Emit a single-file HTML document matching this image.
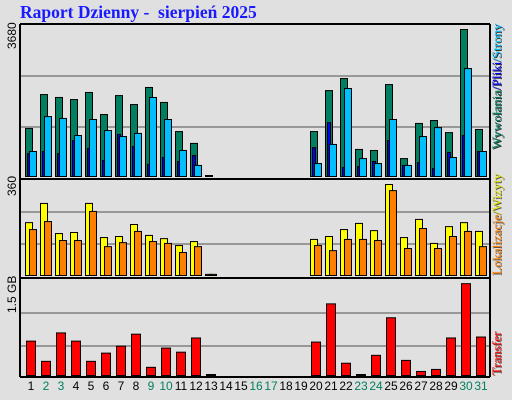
<!DOCTYPE html>
<html><head><meta charset="utf-8"><style>
html,body{margin:0;padding:0;background:#e0e0e0;}
svg{display:block;font-family:"Liberation Sans",sans-serif;}
</style></head><body>
<svg id="chart" width="512" height="400" viewBox="0 0 512 400" xmlns="http://www.w3.org/2000/svg">
<rect x="0" y="0" width="512" height="400" fill="#e0e0e0"/>
<text x="20" y="18" font-family="Liberation Serif, serif" font-weight="bold" font-size="17.5" fill="#1a1aff" xml:space="preserve">Raport Dzienny -  sierpień 2025</text>
<g id="panels"></g>
<text transform="translate(16,49) rotate(-90)" font-size="12" fill="#000">3680</text>
<text transform="translate(16,196) rotate(-90)" font-size="12" fill="#000">360</text>
<text transform="translate(16,313) rotate(-90)" font-size="12" fill="#000">1.5 GB</text>
<text transform="translate(502,150) rotate(-90)" font-family="Liberation Serif, serif" font-size="13" fill="#333">Wywołania/Pliki/Strony</text>
<text transform="translate(501,149) rotate(-90)" font-family="Liberation Serif, serif" font-size="13"><tspan fill="#008060">Wywołania</tspan><tspan fill="#0000ff">/Pliki</tspan><tspan fill="#00bfff">/Strony</tspan></text>
<text transform="translate(502,276) rotate(-90)" font-family="Liberation Serif, serif" font-size="13" fill="#555">Lokalizacje/Wizyty</text>
<text transform="translate(501,275) rotate(-90)" font-family="Liberation Serif, serif" font-size="13"><tspan fill="#ff8000">Lokalizacje</tspan><tspan fill="#e0e000">/Wizyty</tspan></text>
<text transform="translate(502,376) rotate(-90)" font-family="Liberation Serif, serif" font-size="13" fill="#555">Transfer</text>
<text transform="translate(501,375) rotate(-90)" font-family="Liberation Serif, serif" font-size="13" fill="#ff0000">Transfer</text>
<g id="xlabels"></g>
</svg>
<script>
const days = [1,2,3,4,5,6,7,8,9,10,11,12,13,14,15,16,17,18,19,20,21,22,23,24,25,26,27,28,29,30,31];
const weekend = [2,3,9,10,16,17,23,24,30,31];
const hits  = [1180,1995,1925,1875,2045,1515,1970,1755,2165,1805,1105,820,25,0,0,0,0,0,0,1105,2090,2380,675,650,2235,455,1300,1370,1080,3560,1155];
const files = [575,625,575,890,700,410,1035,745,315,480,385,530,0,0,0,0,0,0,0,720,1320,240,265,385,890,290,360,215,600,1010,625];
const pages = [625,1465,1420,1010,1395,1130,985,1060,1925,1395,650,290,0,0,0,0,0,0,0,335,795,2140,455,335,1395,290,985,1200,480,2620,625];
const visits = [202,274,161,165,274,146,150,195,154,142,116,131,8,0,0,0,0,0,0,139,150,176,199,172,345,146,214,124,187,202,169];
const locs   = [176,206,135,135,244,112,127,169,131,124,90,112,8,0,0,0,0,0,0,116,97,139,139,135,322,105,180,105,150,169,112];
const transferMB = [560,240,690,560,240,370,480,670,145,450,385,610,16,0,0,0,0,0,0,545,1150,210,16,335,930,255,80,112,610,1470,625];
const maxHits = 3680, maxVisits = 360, maxMB = 1536;
const NS = "http://www.w3.org/2000/svg";
const svg = document.getElementById('panels');
const xl = document.getElementById('xlabels');
function slotX(i){ return 20 + i*15; }
function el(tag, attrs, parent){ const e=document.createElementNS(NS,tag); for(const k in attrs) e.setAttribute(k,attrs[k]); parent.appendChild(e); return e; }
const panels = [
 {name:'hits-panel', top:24, base:177, grid:[76,127]},
 {name:'visits-panel', top:180, base:276, grid:[212,244]},
 {name:'transfer-panel', top:279, base:376, grid:[313,346]}
];
panels.forEach(p=>{
  p.grid.forEach(g=>{
    const l=el('line',{x1:20,x2:490,y1:g,y2:g,stroke:'#808080','stroke-width':1.5},svg);
    
    
  });
});
function yScale(v,max,top,base){ return (base-top)*v/max; }
function bar(x,w,h,base,fill,name){
  if(h<=0) return;
  if(h<1.5){ const r=el('rect',{x:x,y:base-2,width:w,height:2,fill:'#000'},svg);   return; }
  const r=el('rect',{x:x+0.5,y:base-h+0.5,width:w-1,height:h-1,fill:fill,stroke:'#000','stroke-width':1},svg);
  
  
}
days.forEach((d,i)=>{
  const sx=slotX(i);
  const P0=panels[0], P1=panels[1], P2=panels[2];
  bar(sx+5,8,yScale(hits[i],maxHits,P0.top,P0.base),P0.base,'#008060','bar-hits-'+d);
  bar(sx+7,4,yScale(files[i],maxHits,P0.top,P0.base),P0.base,'#0000ff','bar-files-'+d);
  bar(sx+9,8,yScale(pages[i],maxHits,P0.top,P0.base),P0.base,'#00bfff','bar-pages-'+d);
  bar(sx+5,8,yScale(visits[i],maxVisits,P1.top,P1.base),P1.base,'#ffff00','bar-visits-'+d);
  bar(sx+9,8,yScale(locs[i],maxVisits,P1.top,P1.base),P1.base,'#ff8000','bar-locations-'+d);
  bar(sx+6,10,yScale(transferMB[i],maxMB,P2.top,P2.base),P2.base,'#ff0000','bar-transfer-'+d);
  const t=el('text',{x:sx+11,y:390,'text-anchor':'middle','font-size':12,fill:weekend.includes(d)?'#008060':'#000'},xl);
  t.textContent=d;
  
  
});
[[20,24,490,24],[20,24,20,377],[490,24,490,377],[20,179,490,179],[20,278,490,278],[20,377,490,377]].forEach(c=>{
  const l=el('line',{x1:c[0],y1:c[1],x2:c[2],y2:c[3],stroke:'#000','stroke-width':2},svg);
  
  
});
</script>
</body></html>
